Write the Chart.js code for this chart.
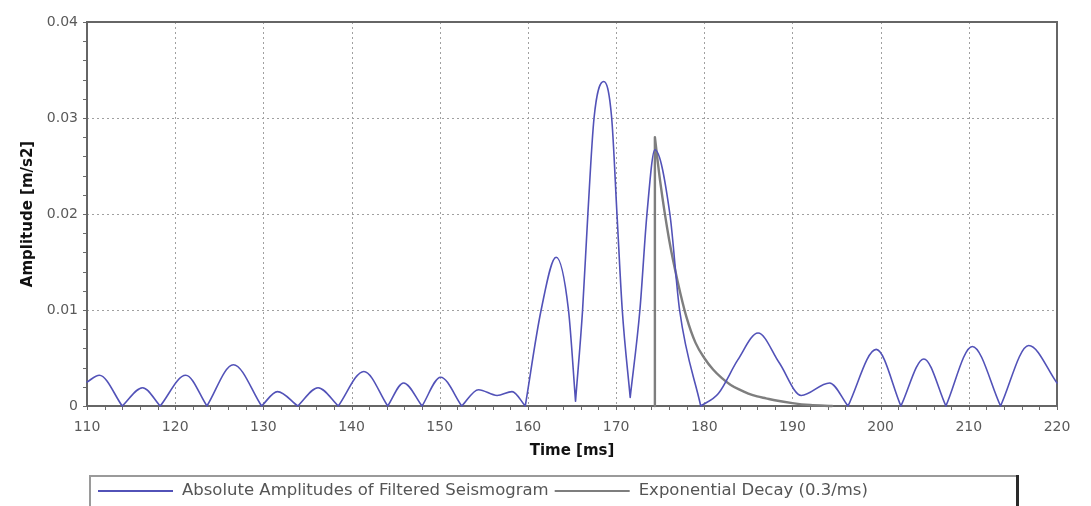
<!DOCTYPE html>
<html>
<head>
<meta charset="utf-8">
<script src="https://cdn.jsdelivr.net/npm/chart.js@4.4.1/dist/chart.umd.min.js"></script>
<style>
  html, body { margin: 0; padding: 0; background: #ffffff; }
  #wrap { width: 1091px; height: 506px; position: relative; }
</style>
</head>
<body>
<div id="wrap"><canvas id="c" width="1091" height="506"></canvas></div>
<script>
// Absolute amplitudes of the filtered seismogram: time [ms] and amplitude [m/s2]
const seisTime = [110.0, 111.4, 114.0, 116.3, 118.3, 121.2, 123.6, 126.6, 129.8, 131.6,
                  133.9, 136.2, 138.5, 141.4, 144.1, 145.9, 148.0, 150.1, 152.5, 154.4,
                  156.5, 158.2, 159.7, 161.5, 163.2, 164.6, 165.4, 166.2, 166.8, 167.5,
                  168.6, 169.5, 170.1, 170.7, 171.6, 172.7, 173.5, 174.4, 176.1, 177.2,
                  179.6, 181.6, 183.8, 186.1, 188.5, 191.0, 194.2, 196.3, 199.5, 202.3,
                  204.9, 207.4, 210.4, 213.6, 216.8, 220.0];
const seisAmp = [0.0025, 0.0032, 0, 0.0019, 0, 0.0032, 0, 0.0043, 0, 0.0015,
                 0, 0.0019, 0, 0.0036, 0, 0.0024, 0, 0.0030, 0, 0.0017,
                 0.0011, 0.0015, 0, 0.0100, 0.0155, 0.0100, 0.0005, 0.0100, 0.0200, 0.0300,
                 0.0338, 0.0300, 0.0200, 0.0100, 0.0009, 0.0100, 0.0200, 0.0267, 0.0200, 0.0100,
                 0, 0.0013, 0.0048, 0.0076, 0.0045, 0.0011, 0.0024, 0, 0.0059, 0,
                 0.0049, 0, 0.0062, 0, 0.0063, 0.0024];

// Exponential decay envelope starting at the picked onset
const decayTime = [174.4, 174.4, 175, 176, 177, 178, 179, 180, 181, 182,
                   183, 184, 185, 186, 187, 188, 190, 192, 194.5];
const decayAmp = [0, 0.0280, 0.0234, 0.0174, 0.0129, 0.0092, 0.0066, 0.0050, 0.0038, 0.0029,
                  0.0022, 0.0017, 0.0013, 0.0010, 0.0008, 0.0006, 0.0003, 0.0001, 0];

const seriesLabels = ['Absolute Amplitudes of Filtered Seismogram', 'Exponential Decay (0.3/ms)'];
const axisTitles = { x: 'Time [ms]', y: 'Amplitude [m/s2]' };
const xRange = { min: 110, max: 220, major: 10, minor: 2 };
const yRange = { min: 0, max: 0.04, major: 0.01, minor: 0.002 };

// Builds {x,y} points; a null point after a break lets each piece keep its own
// end slopes, so notches stay sharp while the arches stay smooth.
function withBreaks(times, values, isBreak) {
  const pts = [];
  times.forEach((t, i) => {
    pts.push({ x: t, y: values[i] });
    if (isBreak(i)) {
      pts.push({ x: t, y: null });
      pts.push({ x: t, y: values[i] });
    }
  });
  return pts;
}

const seisPoints = withBreaks(seisTime, seisAmp, (i) =>
  i > 0 && i < seisAmp.length - 1 &&
  seisAmp[i] < seisAmp[i - 1] && seisAmp[i] < seisAmp[i + 1] && seisAmp[i] < 0.001);

const decayPoints = withBreaks(decayTime, decayAmp, (i) =>
  i > 0 && decayTime[i] === decayTime[i - 1]);

const BLUE = '#5252b8';
const GREY = '#7e7e7e';
Chart.defaults.font.family = '"DejaVu Sans", sans-serif';

// Dotted grid, frame and outward minor ticks
const framePlugin = {
  id: 'frame',
  beforeDatasetsDraw(chart) {
    const { ctx, chartArea: a, scales: { x, y } } = chart;
    ctx.save();
    ctx.strokeStyle = '#a0a0a0';
    ctx.lineWidth = 1;
    ctx.setLineDash([2, 3]);
    for (let v = xRange.min + xRange.major; v < xRange.max; v += xRange.major) {
      const px = Math.round(x.getPixelForValue(v)) + 0.5;
      ctx.beginPath(); ctx.moveTo(px, a.top); ctx.lineTo(px, a.bottom); ctx.stroke();
    }
    for (let k = 1; k < 4; k++) {
      const py = Math.round(y.getPixelForValue(yRange.min + k * yRange.major)) + 0.5;
      ctx.beginPath(); ctx.moveTo(a.left, py); ctx.lineTo(a.right, py); ctx.stroke();
    }
    ctx.setLineDash([]);
    ctx.strokeStyle = '#6a6a6a';
    ctx.lineWidth = 1;
    for (let v = xRange.min; v <= xRange.max + 1e-9; v += xRange.minor) {
      const px = Math.round(x.getPixelForValue(v)) + 0.5;
      ctx.beginPath(); ctx.moveTo(px, a.bottom); ctx.lineTo(px, a.bottom + 4); ctx.stroke();
    }
    for (let k = 0; k <= 20; k++) {
      const py = Math.round(y.getPixelForValue(yRange.min + k * yRange.minor)) + 0.5;
      ctx.beginPath(); ctx.moveTo(a.left - 4, py); ctx.lineTo(a.left, py); ctx.stroke();
    }
    ctx.strokeStyle = '#666666';
    ctx.lineWidth = 2;
    ctx.strokeRect(a.left, a.top, a.right - a.left, a.bottom - a.top);
    ctx.restore();
  }
};

// Boxed legend below the axis title
const legendPlugin = {
  id: 'boxLegend',
  afterDraw(chart) {
    const ctx = chart.ctx;
    const box = { left: 90, top: 476, right: 1017, bottom: 506 };
    ctx.save();
    ctx.strokeStyle = '#9a9a9a';
    ctx.lineWidth = 2;
    ctx.beginPath();
    ctx.moveTo(box.left, box.bottom);
    ctx.lineTo(box.left, box.top);
    ctx.lineTo(box.right, box.top);
    ctx.stroke();
    ctx.fillStyle = '#2a2a2a';
    ctx.fillRect(box.right - 1, box.top - 1, 3, box.bottom - box.top + 1);
    ctx.font = '16.5px "DejaVu Sans", sans-serif';
    ctx.textBaseline = 'middle';
    const cy = 491;
    let cx = box.left + 8;
    chart.data.datasets.forEach((ds) => {
      ctx.strokeStyle = ds.borderColor;
      ctx.lineWidth = 2;
      ctx.beginPath(); ctx.moveTo(cx, cy); ctx.lineTo(cx + 75, cy); ctx.stroke();
      cx += 75 + 9;
      ctx.fillStyle = '#555555';
      ctx.fillText(ds.label, cx, cy);
      cx += ctx.measureText(ds.label).width + 6;
    });
    ctx.restore();
  }
};

new Chart(document.getElementById('c'), {
  type: 'line',
  data: {
    datasets: [
      {
        label: seriesLabels[0],
        data: seisPoints,
        borderColor: BLUE,
        borderWidth: 1.6,
        pointRadius: 0,
        cubicInterpolationMode: 'monotone',
        spanGaps: false,
        borderCapStyle: 'round',
        borderJoinStyle: 'round',
        clip: 5
      },
      {
        label: seriesLabels[1],
        data: decayPoints,
        borderColor: GREY,
        borderWidth: 2.4,
        pointRadius: 0,
        cubicInterpolationMode: 'monotone',
        spanGaps: false,
        borderCapStyle: 'round',
        clip: 5
      }
    ]
  },
  options: {
    responsive: false,
    animation: false,
    devicePixelRatio: 1,
    layout: { padding: { left: 0, right: 34, top: 22, bottom: 36 } },
    plugins: { legend: { display: false }, tooltip: { enabled: false } },
    scales: {
      x: {
        type: 'linear',
        min: xRange.min,
        max: xRange.max,
        afterFit: (s) => { s.height = 64; },
        grid: { display: false, drawTicks: false, tickLength: 0 },
        border: { display: false },
        ticks: {
          stepSize: xRange.major,
          autoSkip: false,
          maxRotation: 0,
          padding: 13,
          color: '#5a5a5a',
          font: { size: 14 }
        },
        title: {
          display: true,
          text: axisTitles.x,
          color: '#111111',
          font: { size: 15, weight: 'bold' },
          padding: { top: 0, bottom: 10 }
        }
      },
      y: {
        type: 'linear',
        min: yRange.min,
        max: yRange.max,
        afterFit: (s) => { s.width = 87; },
        grid: { display: false, drawTicks: false, tickLength: 0 },
        border: { display: false },
        ticks: {
          stepSize: yRange.major,
          padding: 9,
          color: '#5a5a5a',
          font: { size: 14 },
          callback: (v) => (Math.abs(v) < 1e-12 ? '0' : Number(v.toFixed(2)).toString())
        },
        title: {
          display: true,
          text: axisTitles.y,
          color: '#111111',
          font: { size: 15, weight: 'bold' },
          padding: { top: 19, bottom: 0 }
        }
      }
    }
  },
  plugins: [framePlugin, legendPlugin]
});
</script>
</body>
</html>
